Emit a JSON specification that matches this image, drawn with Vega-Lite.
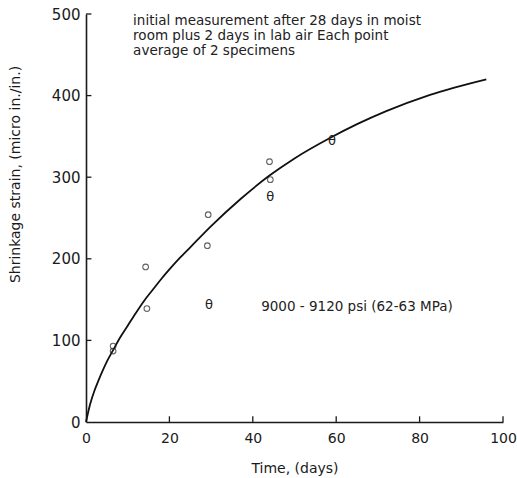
{
  "$schema": "https://vega.github.io/schema/vega-lite/v6.json",
  "width": 417,
  "height": 408,
  "autosize": {"type": "none"},
  "padding": {"left": 86, "top": 14, "right": 14, "bottom": 56},
  "background": "white",
  "config": {
    "view": {"stroke": null},
    "font": "DejaVu Sans",
    "axis": {
      "domainColor": "#1a1a1a",
      "domainWidth": 1.6,
      "ticks": false,
      "grid": false,
      "labelColor": "#1a1a1a",
      "labelFont": "DejaVu Sans",
      "labelFontSize": 14,
      "titleColor": "#1a1a1a",
      "titleFont": "DejaVu Sans",
      "titleFontSize": 14,
      "titleFontWeight": "normal"
    }
  },
  "datasets": {
    "curve": [
      {"t": 0, "s": 0}, {"t": 1, "s": 22}, {"t": 2, "s": 38}, {"t": 3, "s": 51},
      {"t": 4, "s": 63}, {"t": 5, "s": 74}, {"t": 6.5, "s": 88}, {"t": 8, "s": 102},
      {"t": 10, "s": 118}, {"t": 12, "s": 134}, {"t": 14, "s": 149}, {"t": 16, "s": 162},
      {"t": 18, "s": 175}, {"t": 20, "s": 187}, {"t": 22.5, "s": 201},
      {"t": 25, "s": 214}, {"t": 30, "s": 240}, {"t": 37, "s": 273}, {"t": 44, "s": 302},
      {"t": 50, "s": 323}, {"t": 58.5, "s": 348}, {"t": 65, "s": 365}, {"t": 72, "s": 381},
      {"t": 82.5, "s": 401}, {"t": 96, "s": 420}
    ],
    "xticks": [
      {"v": 20, "a": 0, "b": 7}, {"v": 40, "a": 0, "b": 7}, {"v": 60, "a": 0, "b": 7},
      {"v": 80, "a": 0, "b": 7}, {"v": 100, "a": 0, "b": 7}
    ],
    "yticks": [
      {"v": 100, "a": 0, "b": 1.3}, {"v": 200, "a": 0, "b": 1.3}, {"v": 300, "a": 0, "b": 1.3},
      {"v": 400, "a": 0, "b": 1.3}, {"v": 500, "a": 0, "b": 1.3}
    ],
    "points": [
      {"t": 6.5, "s": 93, "kind": "circle"},
      {"t": 6.5, "s": 87, "kind": "circle"},
      {"t": 14.3, "s": 190, "kind": "circle"},
      {"t": 14.6, "s": 139, "kind": "circle"},
      {"t": 29.3, "s": 254, "kind": "circle"},
      {"t": 29.1, "s": 216, "kind": "circle"},
      {"t": 29.5, "s": 143, "kind": "theta"},
      {"t": 44, "s": 319, "kind": "circle"},
      {"t": 44.2, "s": 297, "kind": "circle"},
      {"t": 44.2, "s": 276, "kind": "theta"},
      {"t": 59, "s": 344, "kind": "theta"}
    ],
    "notes": [
      {"t": 11.3, "s": 487, "label": "initial measurement after 28 days in moist"},
      {"t": 11.3, "s": 468.5, "label": "room plus 2 days in lab air Each point"},
      {"t": 11.3, "s": 450, "label": "average of 2 specimens"},
      {"t": 42, "s": 136, "label": "9000 - 9120 psi (62-63 MPa)"}
    ]
  },
  "layer": [
    {
      "data": {"name": "curve"},
      "mark": {"type": "line", "color": "#111", "strokeWidth": 1.8, "interpolate": "monotone"},
      "encoding": {
        "x": {
          "field": "t", "type": "quantitative",
          "scale": {"domain": [0, 100], "nice": false},
          "axis": {
            "values": [0, 20, 40, 60, 80, 100],
            "title": "Time, (days)",
            "labelPadding": 9,
            "titlePadding": 16,
            "labelFlush": false
          }
        },
        "y": {
          "field": "s", "type": "quantitative",
          "scale": {"domain": [0, 500], "nice": false},
          "axis": {
            "values": [0, 100, 200, 300, 400, 500],
            "title": "Shrinkage strain, (micro in./in.)",
            "labelPadding": 6,
            "labelFontSize": 15,
            "labelFlush": false,
            "titleX": -71,
            "titleY": 160,
            "titleAngle": 270,
            "titleAlign": "center",
            "titleBaseline": "middle"
          }
        }
      }
    },
    {
      "data": {"name": "xticks"},
      "mark": {"type": "rule", "color": "#1a1a1a", "strokeWidth": 1.3},
      "encoding": {
        "x": {"field": "v", "type": "quantitative"},
        "y": {"field": "a", "type": "quantitative"},
        "y2": {"field": "b"}
      }
    },
    {
      "data": {"name": "yticks"},
      "mark": {"type": "rule", "color": "#1a1a1a", "strokeWidth": 1.3},
      "encoding": {
        "y": {"field": "v", "type": "quantitative"},
        "x": {"field": "a", "type": "quantitative"},
        "x2": {"field": "b"}
      }
    },
    {
      "data": {"name": "points"},
      "transform": [{"filter": "datum.kind === 'circle'"}],
      "mark": {"type": "point", "shape": "circle", "filled": false, "color": "#222", "size": 32, "strokeWidth": 1.1},
      "encoding": {
        "x": {"field": "t", "type": "quantitative"},
        "y": {"field": "s", "type": "quantitative"}
      }
    },
    {
      "data": {"name": "points"},
      "transform": [{"filter": "datum.kind === 'theta'"}],
      "mark": {"type": "text", "text": "θ", "fontSize": 13, "color": "#222", "baseline": "middle", "align": "center", "font": "DejaVu Sans"},
      "encoding": {
        "x": {"field": "t", "type": "quantitative"},
        "y": {"field": "s", "type": "quantitative"}
      }
    },
    {
      "data": {"name": "notes"},
      "mark": {"type": "text", "align": "left", "baseline": "alphabetic", "color": "#222", "font": "DejaVu Sans", "fontSize": 13.5},
      "encoding": {
        "x": {"field": "t", "type": "quantitative"},
        "y": {"field": "s", "type": "quantitative"},
        "text": {"field": "label"}
      }
    }
  ]
}
